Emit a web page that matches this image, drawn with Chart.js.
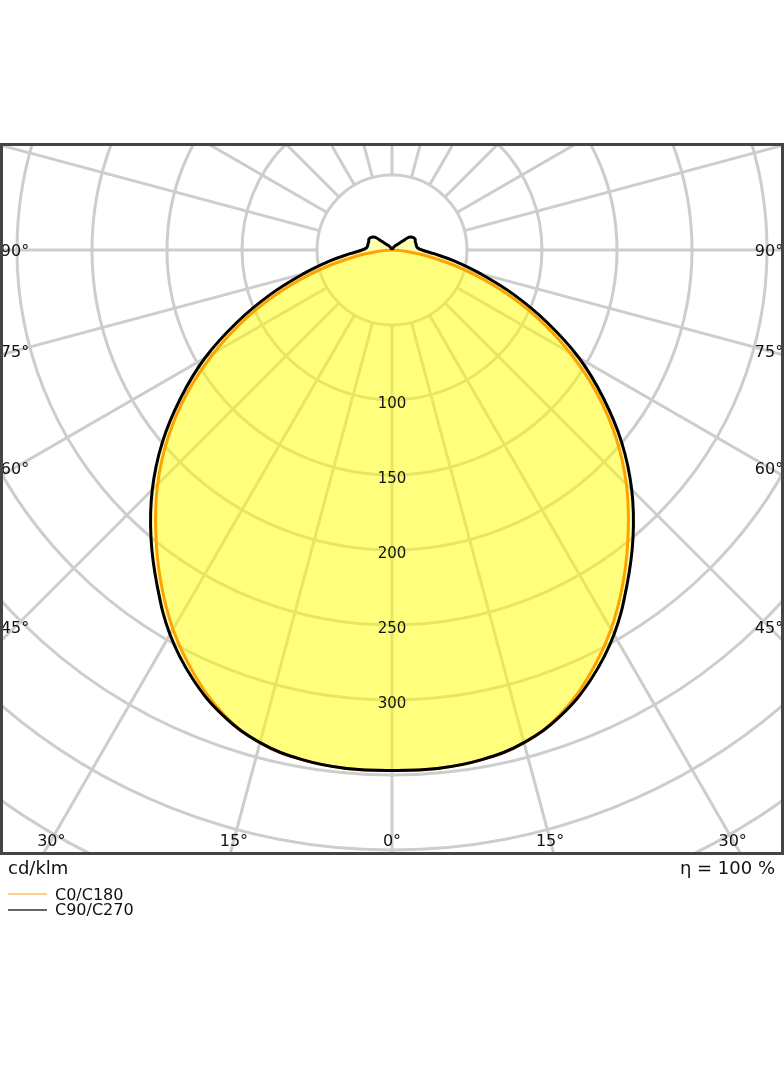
<!DOCTYPE html>
<html>
<head>
    <script src="https://cdn.jsdelivr.net/npm/chart.js@4.4.1/dist/chart.umd.min.js"></script>
    <style>
        body {
            margin: 0;
            background: white;
            font-family: "DejaVu Sans", sans-serif;
            color: #111;
        }
        #wrap {
            position: relative;
            width: 784px;
            height: 1066px;
        }
        .txt {
            position: absolute;
            white-space: nowrap;
        }
        #unit, #eta {
            top: 859px;
            font-size: 18px;
            line-height: 18px;
        }
        #unit { left: 8px; }
        #eta { right: 9px; }
        .leg {
            left: 55px;
            font-size: 16px;
            line-height: 16px;
        }
        .legline {
            position: absolute;
            left: 8px;
            width: 39px;
            height: 2px;
        }
    </style>
</head>
<body>
<div id="wrap">
    <canvas id="ldc" width="784" height="1066"></canvas>
    <div class="txt" id="unit">cd/klm</div>
    <div class="txt" id="eta">η = 100 %</div>
    <div class="legline" style="top:893px; background:#ffcf8a;"></div>
    <div class="txt leg" style="top:887px;">C0/C180</div>
    <div class="legline" style="top:909px; background:#666;"></div>
    <div class="txt leg" style="top:902px;">C90/C270</div>
</div>

<script>
    // gamma angles (deg, 0 = straight down) and intensities in cd/klm
    var gamma = [0, 5, 10, 15, 20, 25, 30, 35, 40, 45, 50, 55, 60, 65, 70, 75, 80, 85, 90,
                 95, 100, 105, 110, 115, 120, 125, 128, 130, 135, 140, 145, 150, 160, 170, 180];
    var c0c180 = [347, 347, 345, 340, 329, 312, 292, 269, 245, 221, 195, 167, 137, 107, 77, 49, 25, 9, 1,
                  0, 0, 0, 0, 0, 0, 0, 0, 0, 0, 0, 0, 0, 0, 0, 0];
    var c90c270 = [347, 347, 345, 340, 330, 315, 296, 273, 250, 226, 200, 172, 144, 114, 86, 61, 42, 28, 20,
                   17, 16.5, 16.5, 16.5, 17, 16.5, 15, 13, 9, 5.5, 4, 3, 2, 1, 0.5, 0];

    // grid
    var ringValues = [50, 100, 150, 200, 250, 300, 350, 400, 450, 500];
    var ringLabels = [100, 150, 200, 250, 300];
    var spokeStep = 15;
    var angleLabels = [0, 15, 30, 45, 60, 75, 90];

    // plot window in cd/klm units (center of the polar plot is 0,0)
    var xMin = -261.33, xMax = 261.33;
    var yMin = -403.33, yMax = 71.33;

    // turn one half-plane profile into points, left side goes 180 -> 0, right side 0 -> 180
    function toPoints(values) {
        var pts = [];
        for (var i = gamma.length - 1; i >= 0; i--) {
            var a = gamma[i] * Math.PI / 180;
            pts.push({x: -values[i] * Math.sin(a), y: -values[i] * Math.cos(a)});
        }
        for (var j = 1; j < gamma.length; j++) {
            var b = gamma[j] * Math.PI / 180;
            pts.push({x: values[j] * Math.sin(b), y: -values[j] * Math.cos(b)});
        }
        return pts;
    }

    var polarGrid = {
        id: 'polarGrid',
        // grid goes in beforeDraw so the filler (beforeDatasetsDraw) paints over it
        beforeDraw: function(chart) {
            var ctx = chart.ctx, area = chart.chartArea;
            var sx = chart.scales.x, sy = chart.scales.y;
            var cx = sx.getPixelForValue(0), cy = sy.getPixelForValue(0);
            var unit = sx.getPixelForValue(1) - cx;
            ctx.save();
            ctx.beginPath();
            ctx.rect(area.left, area.top, area.right - area.left, area.bottom - area.top);
            ctx.clip();
            ctx.strokeStyle = '#cdcdcd';
            ctx.lineWidth = 3;
            ringValues.forEach(function(r) {
                ctx.beginPath();
                ctx.arc(cx, cy, r * unit, 0, Math.PI * 2);
                ctx.stroke();
            });
            var r0 = ringValues[0] * unit, r1 = 800;
            for (var a = 0; a < 360; a += spokeStep) {
                var t = a * Math.PI / 180;
                var dx = Math.sin(t), dy = Math.cos(t);
                ctx.beginPath();
                ctx.moveTo(cx + dx * r0, cy + dy * r0);
                ctx.lineTo(cx + dx * r1, cy + dy * r1);
                ctx.stroke();
            }
            ctx.restore();
        },
        afterDatasetsDraw: function(chart) {
            var ctx = chart.ctx, area = chart.chartArea;
            var sx = chart.scales.x, sy = chart.scales.y;
            var cx = sx.getPixelForValue(0), cy = sy.getPixelForValue(0);
            var unit = sx.getPixelForValue(1) - cx;
            ctx.save();
            ctx.fillStyle = '#111';
            ctx.font = '15px "DejaVu Sans"';
            ctx.textAlign = 'center';
            ctx.textBaseline = 'middle';
            ringLabels.forEach(function(v) {
                ctx.fillText(String(v), cx, cy + v * unit + 4);
            });
            ctx.font = '16px "DejaVu Sans"';
            var left = area.left + 15, right = area.right - 15, bottom = area.bottom - 15;
            angleLabels.forEach(function(a) {
                var sides = a === 0 ? [1] : [-1, 1];
                sides.forEach(function(side) {
                    var t = a * Math.PI / 180;
                    var dx = side * Math.sin(t), dy = Math.cos(t);
                    var tt = Infinity;
                    if (Math.abs(dx) > 1e-6) tt = Math.min(tt, (side < 0 ? cx - left : right - cx) / Math.abs(dx));
                    if (dy > 1e-6) tt = Math.min(tt, (bottom - cy) / dy);
                    ctx.fillText(a + '°', cx + dx * tt, cy + dy * tt + 2);
                });
            });
            ctx.restore();
        },
        afterDraw: function(chart) {
            var ctx = chart.ctx, area = chart.chartArea;
            ctx.save();
            ctx.strokeStyle = '#444';
            ctx.lineWidth = 3;
            ctx.strokeRect(area.left + 1.5, area.top + 1.5, area.right - area.left - 3, area.bottom - area.top - 3);
            ctx.restore();
        }
    };

    var ctx = document.getElementById('ldc').getContext('2d');
    var chart = new Chart(ctx, {
        type: 'scatter',
        data: {
            datasets: [{
                label: 'C90/C270',
                data: toPoints(c90c270),
                showLine: true,
                borderColor: '#000',
                borderWidth: 3,
                backgroundColor: 'rgba(255,255,0,0.3)',
                fill: 'shape',
                pointRadius: 0,
                tension: 0.4,
                order: 0
            }, {
                label: 'C0/C180',
                data: toPoints(c0c180),
                showLine: true,
                borderColor: '#ffa200',
                borderWidth: 3,
                backgroundColor: 'rgba(255,255,0,0.3)',
                fill: 'shape',
                pointRadius: 0,
                tension: 0.4,
                order: 1
            }]
        },
        options: {
            responsive: false,
            animation: false,
            devicePixelRatio: 1,
            layout: {
                padding: {top: 143, bottom: 211, left: 0, right: 0}
            },
            scales: {
                x: {type: 'linear', min: xMin, max: xMax, display: false},
                y: {type: 'linear', min: yMin, max: yMax, display: false}
            },
            plugins: {
                legend: {display: false},
                tooltip: {enabled: false},
                filler: {drawTime: 'beforeDatasetsDraw'}
            }
        },
        plugins: [polarGrid]
    });
</script>
</body>
</html>
